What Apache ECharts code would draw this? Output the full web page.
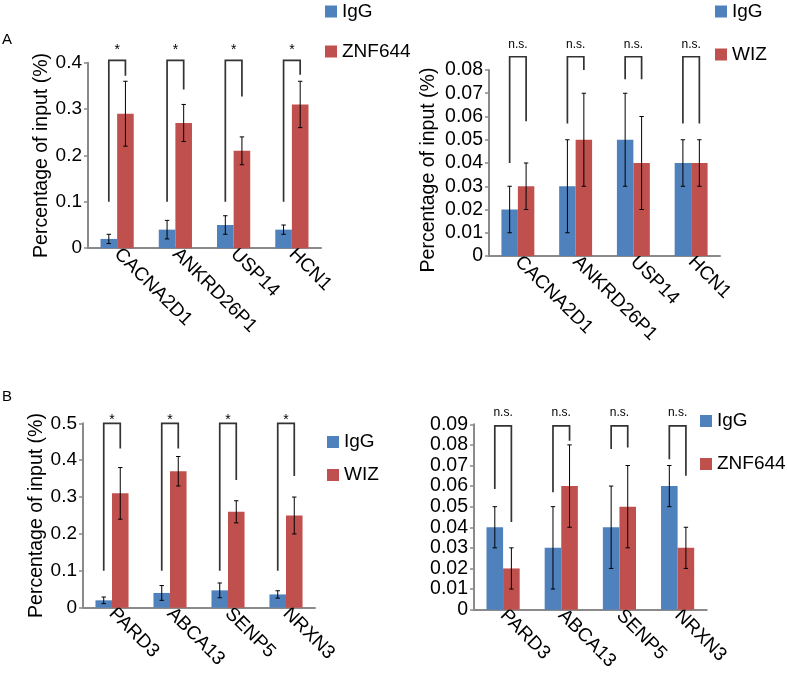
<!DOCTYPE html>
<html>
<head>
<meta charset="utf-8">
<script src="https://cdn.jsdelivr.net/npm/echarts@6/dist/echarts.min.js"></script>
<style>html,body{margin:0;padding:0;background:#fff;}#c{width:787px;height:673px;}</style>
</head>
<body>
<div id="c"></div>
<script>
// ---------- data ----------
const catsA = ['CACNA2D1', 'ANKRD26P1', 'USP14', 'HCN1'];
const catsB = ['PARD3', 'ABCA13', 'SENP5', 'NRXN3'];

// Panel A left: IgG vs ZNF644
const aL_igg = [0.02, 0.04, 0.05, 0.04];
const aL_iggErr = [0.01, 0.02, 0.02, 0.01];
const aL_znf = [0.29, 0.27, 0.21, 0.31];
const aL_znfErr = [0.07, 0.04, 0.03, 0.05];
const aL_brLeft = [0.1, 0.1, 0.1, 0.1];
const aL_brRight = [0.372, 0.342, 0.327, 0.374];
const aL_brTop = [0.405, 0.405, 0.405, 0.405];
const aL_sig = ['*', '*', '*', '*'];
const aL_ticks = [0, 0.1, 0.2, 0.3, 0.4];

// Panel A right: IgG vs WIZ
const aR_igg = [0.02, 0.03, 0.05, 0.04];
const aR_iggErr = [0.01, 0.02, 0.02, 0.01];
const aR_wiz = [0.03, 0.05, 0.04, 0.04];
const aR_wizErr = [0.01, 0.02, 0.02, 0.01];
const aR_brLeft = [0.04, 0.057, 0.076, 0.057];
const aR_brRight = [0.058, 0.08, 0.076, 0.057];
const aR_brTop = [0.0857, 0.0857, 0.0857, 0.0857];
const aR_sig = ['n.s.', 'n.s.', 'n.s.', 'n.s.'];
const aR_ticks = [0, 0.01, 0.02, 0.03, 0.04, 0.05, 0.06, 0.07, 0.08];

// Panel B left: IgG vs WIZ
const bL_igg = [0.02, 0.04, 0.047, 0.036];
const bL_iggErr = [0.009, 0.02, 0.02, 0.01];
const bL_wiz = [0.31, 0.37, 0.26, 0.25];
const bL_wizErr = [0.07, 0.04, 0.03, 0.05];
const bL_brLeft = [0.1, 0.1, 0.1, 0.1];
const bL_brRight = [0.432, 0.432, 0.346, 0.357];
const bL_brTop = [0.5, 0.5, 0.5, 0.5];
const bL_sig = ['*', '*', '*', '*'];
const bL_ticks = [0, 0.1, 0.2, 0.3, 0.4, 0.5];

// Panel B right: IgG vs ZNF644
const bR_igg = [0.04, 0.03, 0.04, 0.06];
const bR_iggErr = [0.01, 0.02, 0.02, 0.01];
const bR_znf = [0.02, 0.06, 0.05, 0.03];
const bR_znfErr = [0.01, 0.02, 0.02, 0.01];
const bR_brLeft = [0.0586, 0.057, 0.078, 0.073];
const bR_brRight = [0.0425, 0.082, 0.0787, 0.065];
const bR_brTop = [0.0892, 0.0892, 0.0892, 0.0892];
const bR_sig = ['n.s.', 'n.s.', 'n.s.', 'n.s.'];
const bR_ticks = [0, 0.01, 0.02, 0.03, 0.04, 0.05, 0.06, 0.07, 0.08, 0.09];

// ---------- style ----------
const FONT = '"Liberation Sans", Arial, sans-serif';
const BLUE = '#4F81BD';
const RED = '#C0504D';
const AXIS = '#8a8a8a';
const BW = 0.285; // bar width fraction of band

const chart = echarts.init(document.getElementById('c'), null, {renderer: 'canvas'});

function yAxisFor(gi, ticks, fontSize, name, nameGap, namePad) {
  return {
    type: 'value', gridIndex: gi,
    min: ticks[0], max: ticks[ticks.length - 1], interval: ticks[1] - ticks[0],
    splitLine: {show: false},
    axisLine: {show: true, lineStyle: {color: AXIS, width: 2}},
    axisTick: {show: true, length: 4, lineStyle: {color: AXIS, width: 1.5}},
    axisLabel: {fontSize: fontSize, color: '#000', fontFamily: FONT, margin: 6},
    name: name || '', nameLocation: 'middle', nameGap: nameGap || 0, nameRotate: 90,
    nameTextStyle: {fontSize: 19.5, color: '#000', fontFamily: FONT, padding: namePad || 0}
  };
}
function xAxisFor(gi, cats) {
  return {
    type: 'category', gridIndex: gi, data: cats,
    axisLine: {show: true, lineStyle: {color: AXIS, width: 2}},
    axisTick: {show: false},
    axisLabel: {rotate: -45, interval: 0, fontSize: 19, color: '#000', fontFamily: FONT, margin: 3,
                padding: [8, 0, 0, 0]}
  };
}
function barsFor(gi, nameA, valsA, nameB, valsB) {
  return [
    {type: 'bar', name: nameA, xAxisIndex: gi, yAxisIndex: gi, data: valsA,
     barWidth: (BW * 100) + '%', barGap: '0%', itemStyle: {color: BLUE}, animation: false},
    {type: 'bar', name: nameB, xAxisIndex: gi, yAxisIndex: gi, data: valsB,
     barWidth: (BW * 100) + '%', barGap: '0%', itemStyle: {color: RED}, animation: false}
  ];
}
function errFor(gi, valsA, errA, valsB, errB) {
  const data = [];
  valsA.forEach((v, i) => data.push([i, v, errA[i], 0]));
  valsB.forEach((v, i) => data.push([i, v, errB[i], 1]));
  return {
    type: 'custom', name: 'err' + gi, xAxisIndex: gi, yAxisIndex: gi, z: 5, animation: false,
    data: data,
    renderItem: function (params, api) {
      const idx = api.value(0), v = api.value(1), e = api.value(2), side = api.value(3);
      const band = api.size([1, 0])[0];
      const off = (side === 0 ? -1 : 1) * band * BW / 2;
      const hi = api.coord([idx, v + e]);
      const lo = api.coord([idx, v - e]);
      const x = hi[0] + off;
      const c = 2.2;
      const st = {stroke: '#000', lineWidth: 1};
      return {type: 'group', children: [
        {type: 'line', shape: {x1: x, y1: hi[1], x2: x, y2: lo[1]}, style: st},
        {type: 'line', shape: {x1: x - c, y1: hi[1], x2: x + c, y2: hi[1]}, style: st},
        {type: 'line', shape: {x1: x - c, y1: lo[1], x2: x + c, y2: lo[1]}, style: st}
      ]};
    }
  };
}
function bracketFor(gi, left, right, top, labels, labelFont, labelOffset) {
  const data = left.map((l, i) => [i, l, right[i], top[i]]);
  return {
    type: 'custom', name: 'br' + gi, xAxisIndex: gi, yAxisIndex: gi, z: 6, animation: false,
    data: data,
    renderItem: function (params, api) {
      const idx = api.value(0);
      const band = api.size([1, 0])[0];
      const off = band * BW / 2;
      const pl = api.coord([idx, api.value(1)]);
      const pr = api.coord([idx, api.value(2)]);
      const pt = api.coord([idx, api.value(3)]);
      const xl = pl[0] - off, xr = pl[0] + off;
      return {type: 'group', children: [
        {type: 'polyline', shape: {points: [[xl, pl[1]], [xl, pt[1]], [xr, pt[1]], [xr, pr[1]]]},
         style: {stroke: '#333', lineWidth: 1.7, fill: null}},
        {type: 'text', x: pl[0], y: pt[1] - labelOffset,
         style: {text: labels[params.dataIndex], fontSize: labelFont, fontFamily: FONT,
                 fill: '#000', align: 'center', verticalAlign: 'middle'}}
      ]};
    }
  };
}
function legendFor(left, top, gap, names) {
  return {
    orient: 'vertical', left: left, top: top, itemGap: gap, itemWidth: 12, itemHeight: 12,
    icon: 'rect', selectedMode: false, data: names, padding: 0,
    textStyle: {fontSize: 19, color: '#000', fontFamily: FONT}
  };
}

const option = {
  backgroundColor: '#fff',
  animation: false,
  title: [
    {text: 'A', left: 2, top: 32, padding: 0, textStyle: {fontSize: 15, fontWeight: 'normal', color: '#000', fontFamily: FONT}},
    {text: 'B', left: 2, top: 389, padding: 0, textStyle: {fontSize: 15, fontWeight: 'normal', color: '#000', fontFamily: FONT}}
  ],
  legend: [
    legendFor(325, 2, 21, ['IgG', 'ZNF644']),
    legendFor(715, 2, 24, ['IgG', 'WIZ']),
    legendFor(327, 432.5, 14, ['IgG', 'WIZ']),
    legendFor(700, 411.5, 24, ['IgG', 'ZNF644'])
  ],
  grid: [
    {left: 88, top: 62.7, width: 233, height: 185.5},
    {left: 489, top: 70, width: 231, height: 186},
    {left: 83, top: 423.3, width: 232, height: 184.4},
    {left: 474, top: 424.3, width: 232.7, height: 186.4}
  ],
  xAxis: [xAxisFor(0, catsA), xAxisFor(1, catsA), xAxisFor(2, catsB), xAxisFor(3, catsB)],
  yAxis: [
    yAxisFor(0, aL_ticks, 19, 'Percentage of input (%)', 32, 0),
    yAxisFor(1, aR_ticks, 19.5, 'Percentage of input (%)', 50, [0, 14, 0, 0]),
    yAxisFor(2, bL_ticks, 19, 'Percentage of input (%)', 35, 0),
    yAxisFor(3, bR_ticks, 19.5, '', 0, 0)
  ],
  series: [].concat(
    barsFor(0, 'IgG', aL_igg, 'ZNF644', aL_znf),
    [errFor(0, aL_igg, aL_iggErr, aL_znf, aL_znfErr), bracketFor(0, aL_brLeft, aL_brRight, aL_brTop, aL_sig, 14, 10)],
    barsFor(1, 'IgG', aR_igg, 'WIZ', aR_wiz),
    [errFor(1, aR_igg, aR_iggErr, aR_wiz, aR_wizErr), bracketFor(1, aR_brLeft, aR_brRight, aR_brTop, aR_sig, 12, 12)],
    barsFor(2, 'IgG', bL_igg, 'WIZ', bL_wiz),
    [errFor(2, bL_igg, bL_iggErr, bL_wiz, bL_wizErr), bracketFor(2, bL_brLeft, bL_brRight, bL_brTop, bL_sig, 14, 3)],
    barsFor(3, 'IgG', bR_igg, 'ZNF644', bR_znf),
    [errFor(3, bR_igg, bR_iggErr, bR_znf, bR_znfErr), bracketFor(3, bR_brLeft, bR_brRight, bR_brTop, bR_sig, 12, 13)]
  )
};
chart.setOption(option);
</script>
</body>
</html>
